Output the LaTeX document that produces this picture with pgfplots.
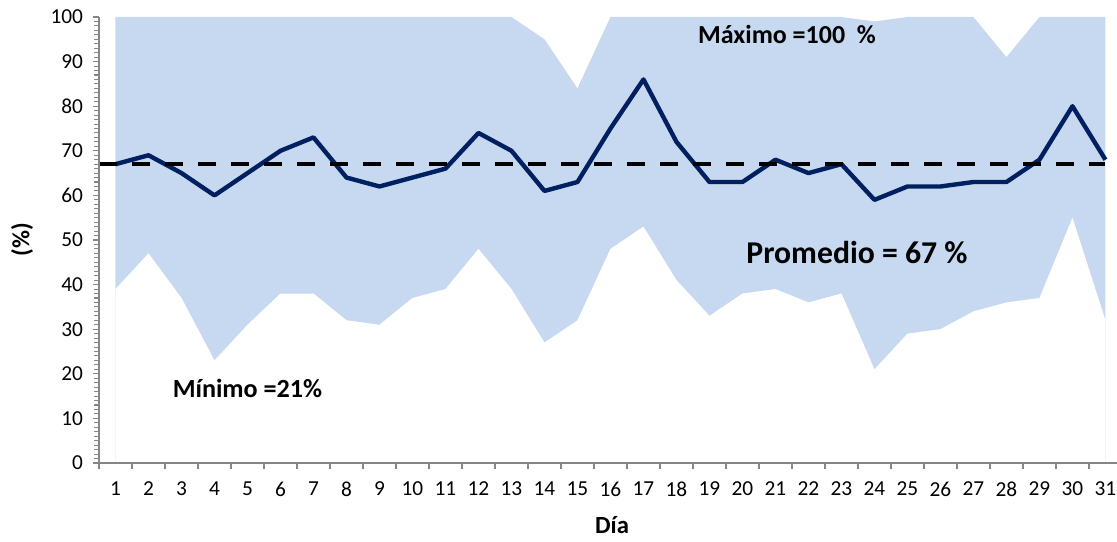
\documentclass[border=0pt]{standalone}
\usepackage{fontspec}
\setmainfont{Carlito}
\usepackage{pgfplots}
\pgfplotsset{compat=1.18}
\definecolor{areablue}{HTML}{C6D9F1}
\definecolor{navy}{HTML}{002060}
\definecolor{axgray}{HTML}{868686}
\begin{document}
\begin{tikzpicture}
\begin{axis}[name=ax,
  scale only axis, width=763.5pt, height=334.5pt,
  xmin=0.5, xmax=31.35, ymin=0, ymax=100,
  axis lines=left, axis line style={axgray, line width=1pt, -},
  axis on top,
  xtick={0.5,1.5,...,30.5},
  xticklabels={1,2,3,4,5,6,7,8,9,10,11,12,13,14,15,16,17,18,19,20,21,22,23,24,25,26,27,28,29,30,31},
  xticklabel style={xshift=12.375pt, yshift=-6pt},
  yticklabel style={xshift=-4pt},
  ytick={0,10,...,100},
  minor y tick num=9,
  tick align=outside,
  major tick length=4.5pt, minor tick length=3.5pt,
  tick style={axgray, line width=1pt},
  minor tick style={axgray, line width=0.8pt},
  ticklabel style={font=\fontsize{16}{18}\selectfont},
  /pgf/number format/assume math mode=true,
  xlabel={\textbf{Día}},
  ylabel={\textbf{(\%)}},
  xlabel style={font=\fontsize{18.5}{20}\selectfont, at={(axis description cs:0.504,-0.139)}, anchor=center},
  ylabel style={font=\fontsize{18.5}{20}\selectfont, at={(axis description cs:-0.0756,0.5)}, anchor=center, rotate=0},
  clip=false,
]
% maximo
\addplot[fill=areablue, draw=none] coordinates {
(1,100) (2,100) (3,100) (4,100) (5,100) (6,100) (7,100) (8,100) (9,100) (10,100)
(11,100) (12,100) (13,100) (14,95) (15,84) (16,100) (17,100) (18,100) (19,100) (20,100)
(21,100) (22,100) (23,100) (24,99) (25,100) (26,100) (27,100) (28,91) (29,100) (30,100) (31,100)
} \closedcycle;
% minimo
\addplot[fill=white, draw=none] coordinates {
(1,39) (2,47) (3,37) (4,23) (5,31) (6,38) (7,38) (8,32) (9,31) (10,37)
(11,39) (12,48) (13,39) (14,27) (15,32) (16,48) (17,53) (18,41) (19,33) (20,38)
(21,39) (22,36) (23,38) (24,21) (25,29) (26,30) (27,34) (28,36) (29,37) (30,55) (31,32)
} \closedcycle;
% diario
\addplot[navy, line width=3.3pt, line join=round] coordinates {
(1,67) (2,69) (3,65) (4,60) (5,65) (6,70) (7,73) (8,64) (9,62) (10,64)
(11,66) (12,74) (13,70) (14,61) (15,63) (16,75) (17,86) (18,72) (19,63) (20,63)
(21,68) (22,65) (23,67) (24,59) (25,62) (26,62) (27,63) (28,63) (29,68) (30,80) (31,68)
};
% promedio
\addplot[black, line width=3.2pt, dash pattern=on 13.75pt off 11pt] coordinates {(0.5,67) (31,67)};
\node[font=\bfseries\fontsize{19.5}{21}\selectfont] at (axis cs:21.35,96) {Máximo =100\ \ \%};
\node[font=\bfseries\fontsize{23.8}{26}\selectfont] at (axis cs:23.47,47.3) {Promedio = 67 \%};
\node[font=\bfseries\fontsize{19.6}{21}\selectfont] at (axis cs:5.0,16.8) {Mínimo =21\%};
\end{axis}
\pgfresetboundingbox
\path[use as bounding box] ([shift={(-74.25pt,-59.25pt)}]ax.south west) rectangle ++(837.75pt,406.5pt);
\end{tikzpicture}
\end{document}
